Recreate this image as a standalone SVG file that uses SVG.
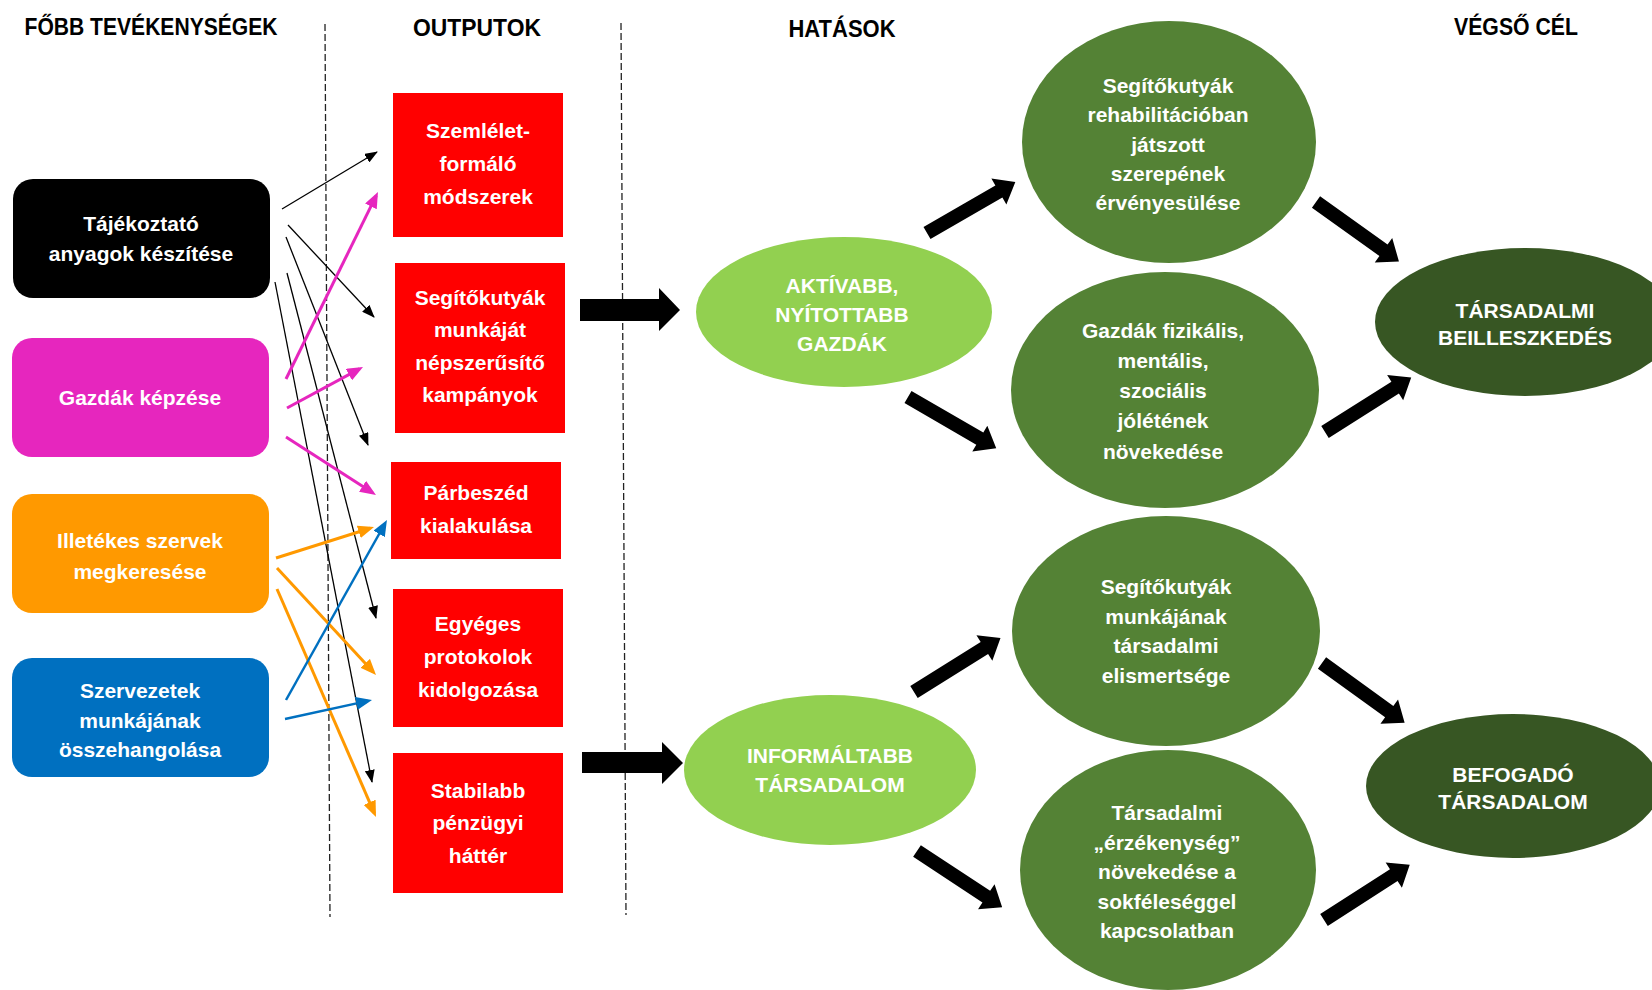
<svg xmlns="http://www.w3.org/2000/svg" xmlns:xlink="http://www.w3.org/1999/xlink" width="1652" height="990" viewBox="0 0 1652 990">
  <style>
    text { font-family: "Liberation Sans", Arial, sans-serif; font-weight: bold; text-anchor: middle; }
    .hd { font-size: 23px; fill: #000; }
    .nt { font-size: 21px; fill: #fff; }
    .et { font-size: 21px; fill: #fff; }
    .dash { stroke: #222; stroke-width: 1.3; stroke-dasharray: 7 3; fill: none; }
    .thin { stroke: #000; stroke-width: 1.3; fill: none; marker-end: url(#mk); }
    .mag { stroke: #E626BE; stroke-width: 3; fill: none; marker-end: url(#mm); }
    .org { stroke: #FF9900; stroke-width: 3; fill: none; marker-end: url(#mo); }
    .blu { stroke: #0070C0; stroke-width: 2.5; fill: none; marker-end: url(#mb); }
    .blk { fill: #000; }
  </style>
  <defs>
    <marker id="mk" markerUnits="userSpaceOnUse" markerWidth="13" markerHeight="10" viewBox="0 0 13 10" refX="12" refY="5" orient="auto">
      <path d="M0,0 L13,5 L0,10 z" fill="#000"/>
    </marker>
    <marker id="mm" markerUnits="userSpaceOnUse" markerWidth="16" markerHeight="13" viewBox="0 0 16 13" refX="12" refY="6.5" orient="auto">
      <path d="M0,0 L16,6.5 L0,13 z" fill="#E626BE"/>
    </marker>
    <marker id="mo" markerUnits="userSpaceOnUse" markerWidth="16" markerHeight="13" viewBox="0 0 16 13" refX="12" refY="6.5" orient="auto">
      <path d="M0,0 L16,6.5 L0,13 z" fill="#FF9900"/>
    </marker>
    <marker id="mb" markerUnits="userSpaceOnUse" markerWidth="16" markerHeight="13" viewBox="0 0 16 13" refX="12" refY="6.5" orient="auto">
      <path d="M0,0 L16,6.5 L0,13 z" fill="#0070C0"/>
    </marker>
    <polygon id="blockArrow" points="0,-7 83,-7 83,-15 102,0 83,15 83,7 0,7"/>
  </defs>

  <rect x="0" y="0" width="1652" height="990" fill="#fff"/>

  <!-- headings -->
  <g id="headings">
    <text class="hd" x="151" y="35" textLength="253" lengthAdjust="spacingAndGlyphs">FŐBB TEVÉKENYSÉGEK</text>
    <text class="hd" x="477" y="36" textLength="128" lengthAdjust="spacingAndGlyphs">OUTPUTOK</text>
    <text class="hd" x="842" y="37" textLength="107" lengthAdjust="spacingAndGlyphs">HATÁSOK</text>
    <text class="hd" x="1516" y="35" textLength="124" lengthAdjust="spacingAndGlyphs">VÉGSŐ CÉL</text>
  </g>

  <!-- separators -->
  <g id="separators">
    <line class="dash" x1="325" y1="24" x2="330" y2="917"/>
    <line class="dash" x1="621" y1="23" x2="626" y2="915"/>
  </g>

  <!-- activities -->
  <g id="act-tajekoztato">
    <rect x="13" y="179" width="257" height="119" rx="20" fill="#000"/>
    <text class="nt" x="141" y="231">Tájékoztató</text>
    <text class="nt" x="141" y="261">anyagok készítése</text>
  </g>
  <g id="act-gazdak">
    <rect x="12" y="338" width="257" height="119" rx="20" fill="#E626BE"/>
    <text class="nt" x="140" y="405">Gazdák képzése</text>
  </g>
  <g id="act-illetekes">
    <rect x="12" y="494" width="257" height="119" rx="20" fill="#FF9900"/>
    <text class="nt" x="140" y="548">Illetékes szervek</text>
    <text class="nt" x="140" y="579">megkeresése</text>
  </g>
  <g id="act-szervezetek">
    <rect x="12" y="658" width="257" height="119" rx="20" fill="#0070C0"/>
    <text class="nt" x="140" y="698">Szervezetek</text>
    <text class="nt" x="140" y="728">munkájának</text>
    <text class="nt" x="140" y="757">összehangolása</text>
  </g>

  <!-- outputs -->
  <g id="out-szemlelet">
    <rect x="393" y="93" width="170" height="144" fill="#FF0000"/>
    <text class="nt" x="478" y="138">Szemlélet-</text>
    <text class="nt" x="478" y="171">formáló</text>
    <text class="nt" x="478" y="204">módszerek</text>
  </g>
  <g id="out-kampanyok">
    <rect x="395" y="263" width="170" height="170" fill="#FF0000"/>
    <text class="nt" x="480" y="305">Segítőkutyák</text>
    <text class="nt" x="480" y="337">munkáját</text>
    <text class="nt" x="480" y="370">népszerűsítő</text>
    <text class="nt" x="480" y="402">kampányok</text>
  </g>
  <g id="out-parbeszed">
    <rect x="391" y="462" width="170" height="97" fill="#FF0000"/>
    <text class="nt" x="476" y="500">Párbeszéd</text>
    <text class="nt" x="476" y="533">kialakulása</text>
  </g>
  <g id="out-protokolok">
    <rect x="393" y="589" width="170" height="138" fill="#FF0000"/>
    <text class="nt" x="478" y="631">Egyéges</text>
    <text class="nt" x="478" y="664">protokolok</text>
    <text class="nt" x="478" y="697">kidolgozása</text>
  </g>
  <g id="out-stabilabb">
    <rect x="393" y="753" width="170" height="140" fill="#FF0000"/>
    <text class="nt" x="478" y="798">Stabilabb</text>
    <text class="nt" x="478" y="830">pénzügyi</text>
    <text class="nt" x="478" y="863">háttér</text>
  </g>

  <!-- impacts -->
  <g id="imp-aktivabb">
    <ellipse cx="844" cy="312" rx="148" ry="75" fill="#92D050"/>
    <text class="et" x="842" y="293">AKTÍVABB,</text>
    <text class="et" x="842" y="322">NYÍTOTTABB</text>
    <text class="et" x="842" y="351">GAZDÁK</text>
  </g>
  <g id="imp-informaltabb">
    <ellipse cx="830" cy="770" rx="146" ry="75" fill="#92D050"/>
    <text class="et" x="830" y="763">INFORMÁLTABB</text>
    <text class="et" x="830" y="792">TÁRSADALOM</text>
  </g>
  <g id="imp-rehab">
    <ellipse cx="1169" cy="142" rx="147" ry="121" fill="#548235"/>
    <text class="et" x="1168" y="93">Segítőkutyák</text>
    <text class="et" x="1168" y="122">rehabilitációban</text>
    <text class="et" x="1168" y="152">játszott</text>
    <text class="et" x="1168" y="181">szerepének</text>
    <text class="et" x="1168" y="210">érvényesülése</text>
  </g>
  <g id="imp-joleet">
    <ellipse cx="1165" cy="390" rx="154" ry="118" fill="#548235"/>
    <text class="et" x="1163" y="338">Gazdák fizikális,</text>
    <text class="et" x="1163" y="368">mentális,</text>
    <text class="et" x="1163" y="398">szociális</text>
    <text class="et" x="1163" y="428">jólétének</text>
    <text class="et" x="1163" y="459">növekedése</text>
  </g>
  <g id="imp-elismertseg">
    <ellipse cx="1166" cy="631" rx="154" ry="115" fill="#548235"/>
    <text class="et" x="1166" y="594">Segítőkutyák</text>
    <text class="et" x="1166" y="624">munkájának</text>
    <text class="et" x="1166" y="653">társadalmi</text>
    <text class="et" x="1166" y="683">elismertsége</text>
  </g>
  <g id="imp-erzekenyseg">
    <ellipse cx="1168" cy="870" rx="148" ry="120" fill="#548235"/>
    <text class="et" x="1167" y="820">Társadalmi</text>
    <text class="et" x="1167" y="850">„érzékenység”</text>
    <text class="et" x="1167" y="879">növekedése a</text>
    <text class="et" x="1167" y="909">sokféleséggel</text>
    <text class="et" x="1167" y="938">kapcsolatban</text>
  </g>

  <!-- final goals -->
  <g id="goal-beilleszkedes">
    <ellipse cx="1525" cy="322" rx="150" ry="74" fill="#375623"/>
    <text class="et" x="1525" y="318">TÁRSADALMI</text>
    <text class="et" x="1525" y="345">BEILLESZKEDÉS</text>
  </g>
  <g id="goal-befogado">
    <ellipse cx="1513" cy="786" rx="147" ry="72" fill="#375623"/>
    <text class="et" x="1513" y="782">BEFOGADÓ</text>
    <text class="et" x="1513" y="809">TÁRSADALOM</text>
  </g>

  <!-- connectors -->
  <g id="connectors">
    <!-- black thin from Tájékoztató -->
    <line class="thin" x1="282" y1="209" x2="377" y2="152"/>
    <line class="thin" x1="288" y1="225" x2="374" y2="317"/>
    <line class="thin" x1="286" y1="237" x2="368" y2="445"/>
    <line class="thin" x1="287" y1="273" x2="376" y2="618"/>
    <line class="thin" x1="275" y1="282" x2="372" y2="782"/>
    <!-- magenta from Gazdák képzése -->
    <line class="mag" x1="286" y1="379" x2="376.2" y2="195.6"/>
    <line class="mag" x1="287" y1="408" x2="359.5" y2="368.9"/>
    <line class="mag" x1="286" y1="437" x2="372.6" y2="492.8"/>
    <!-- orange from Illetékes -->
    <line class="org" x1="276" y1="558" x2="370.2" y2="528.2"/>
    <line class="org" x1="277" y1="568" x2="373.3" y2="672.1"/>
    <line class="org" x1="277" y1="589" x2="374.4" y2="813.3"/>
    <!-- blue from Szervezetek -->
    <line class="blu" x1="286" y1="700" x2="385" y2="523.5"/>
    <line class="blu" x1="285" y1="719" x2="368.1" y2="700.9"/>

    <!-- block arrows outputs -> impacts -->
    <polygon class="blk" points="580,299 659,299 659,288 680,310 659,331 659,321 580,321"/>
    <polygon class="blk" points="582,752 662,752 662,742 683,763 662,784 662,773 582,773"/>

    <!-- diagonal block arrows -->
    <use xlink:href="#blockArrow" href="#blockArrow" class="blk" transform="translate(927,233) rotate(-30)"/>
    <use xlink:href="#blockArrow" href="#blockArrow" class="blk" transform="translate(908,397) rotate(30.1)"/>
    <use xlink:href="#blockArrow" href="#blockArrow" class="blk" transform="translate(1316,202) rotate(35.6)"/>
    <use xlink:href="#blockArrow" href="#blockArrow" class="blk" transform="translate(1325,432) rotate(-32.3)"/>
    <use xlink:href="#blockArrow" href="#blockArrow" class="blk" transform="translate(914,692) rotate(-32)"/>
    <use xlink:href="#blockArrow" href="#blockArrow" class="blk" transform="translate(917,851) rotate(33.4)"/>
    <use xlink:href="#blockArrow" href="#blockArrow" class="blk" transform="translate(1322,663) rotate(35.9)"/>
    <use xlink:href="#blockArrow" href="#blockArrow" class="blk" transform="translate(1324,920) rotate(-32.8)"/>
  </g>
</svg>
